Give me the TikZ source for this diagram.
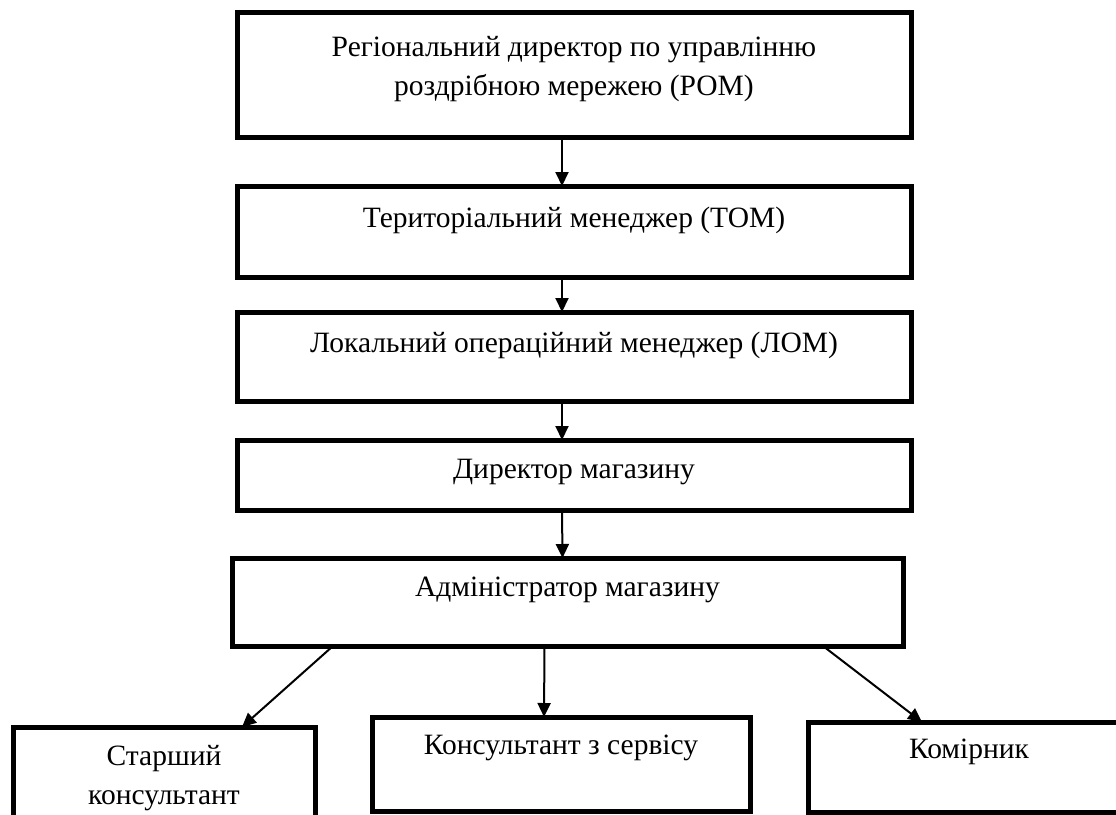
\documentclass[tikz,border=0pt]{standalone}
\usepackage{fontspec}
\setmainfont{Liberation Serif}
\usetikzlibrary{arrows.meta}
\tikzset{
  box/.style={draw=black, line width=5pt, rectangle, inner sep=0pt, outer sep=0pt},
  lab/.style={font=\fontsize{29.5}{39}\selectfont, align=center, inner sep=0pt, anchor=center},
  arr/.style={draw=black, line width=2pt, -{Triangle[length=14pt,width=13pt]}}
}
\begin{document}
\begin{tikzpicture}[x=1pt,y=-1pt]
\useasboundingbox (0,0) rectangle (1116,814);
\fill[white] (0,0) rectangle (1116,814);
% boxes
\node[box, minimum width=674pt, minimum height=125pt,
  label={[lab, yshift=5pt]center:Регіональний директор по управлінню\\роздрібною мережею (РОМ)}] (b1) at (574,74.5) {};
\node[box, minimum width=674pt, minimum height=91pt,
  label={[lab, yshift=11pt]center:Територіальний менеджер (ТОМ)}] (b2) at (574,231.5) {};
\node[box, minimum width=674pt, minimum height=89pt,
  label={[lab, yshift=11pt]center:Локальний операційний менеджер (ЛОМ)}] (b3) at (574,356.5) {};
\node[box, minimum width=674pt, minimum height=70pt,
  label={[lab, yshift=3pt]center:Директор магазину}] (b4) at (574,475) {};
\node[box, minimum width=671pt, minimum height=88pt,
  label={[lab, yshift=12pt]center:Адміністратор магазину}] (b5) at (567.5,602) {};
\node[box, minimum width=302pt, minimum height=103pt,
  label={[lab, yshift=0pt]center:Старший\\консультант}] (b6) at (164,778.5) {};
\node[box, minimum width=378pt, minimum height=94pt,
  label={[lab, yshift=16pt]center:Консультант з сервісу}] (b7) at (561,764) {};
\node[box, minimum width=322pt, minimum height=90pt,
  label={[lab, yshift=15pt]center:Комірник}] (b8) at (969,767) {};
% connectors
\draw[arr] ([xshift=-12pt]b1.south) -- ([xshift=-12pt]b2.north);
\draw[arr] ([xshift=-12pt]b2.south) -- ([xshift=-12pt]b3.north);
\draw[arr] ([xshift=-12pt]b3.south) -- ([xshift=-12pt]b4.north);
\draw[arr] ([xshift=-12pt]b4.south) -- ([xshift=-5pt]b5.north);
\draw[arr] ([xshift=101pt]b5.south west) -- ([xshift=229pt]b6.north west);
\draw[arr] ([xshift=-23pt]b5.south) -- ([xshift=-17pt]b7.north);
\draw[arr] ([xshift=-80pt]b5.south east) -- ([xshift=114pt]b8.north west);
\end{tikzpicture}
\end{document}
